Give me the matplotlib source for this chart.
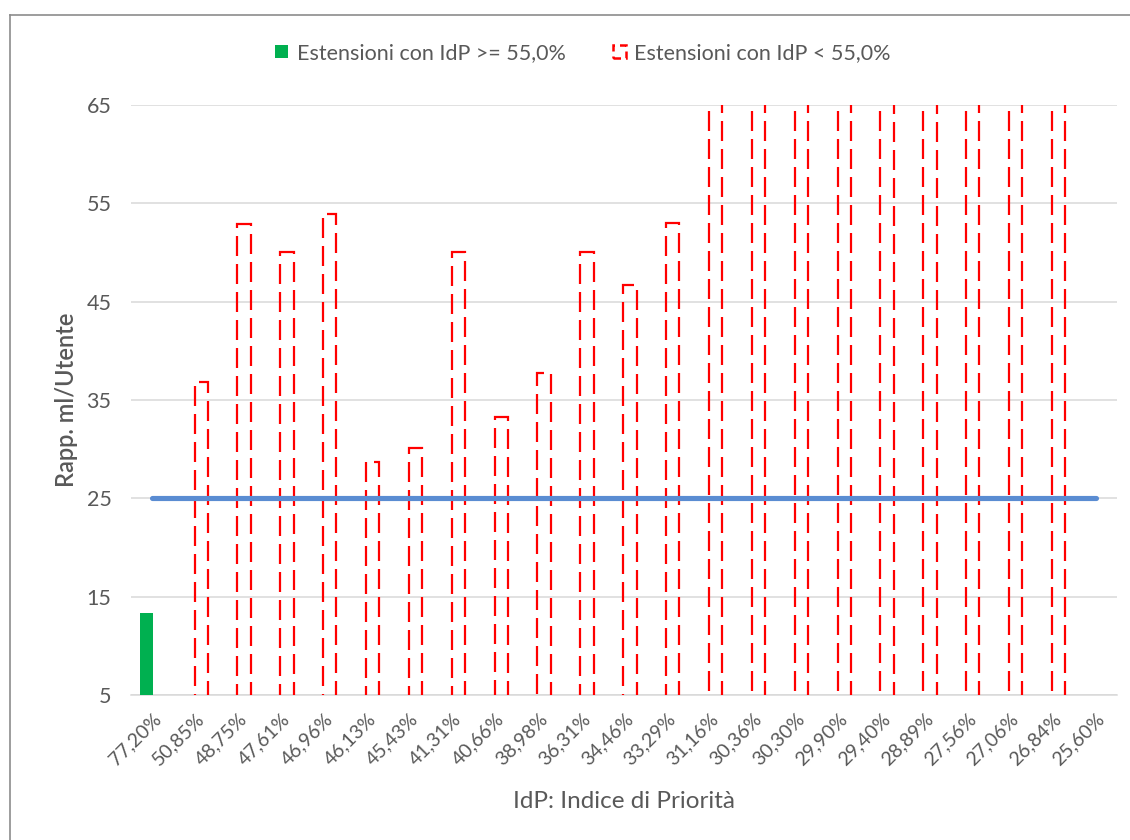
import numpy as np
import matplotlib
matplotlib.use("Agg")
import matplotlib.pyplot as plt
from matplotlib.patches import Patch
from matplotlib.lines import Line2D

plt.rcParams['font.family'] = ['Lato', 'DejaVu Sans']

# IdP per estensione (ordinato decrescente)
idp_labels = ['77,20%', '50,85%', '48,75%', '47,61%', '46,96%', '46,13%',
              '45,43%', '41,31%', '40,66%', '38,98%', '36,31%', '34,46%',
              '33,29%', '31,16%', '30,36%', '30,30%', '29,90%', '29,40%',
              '28,89%', '27,56%', '27,06%', '26,84%', '25,60%']

# rapporto ml/utente, serie IdP >= 55%
rapp_alto = [13.3] + [np.nan] * 22

# rapporto ml/utente, serie IdP < 55% (oltre 65 tagliate dall'asse)
rapp_basso = [np.nan, 36.8, 52.9, 50.1, 53.9, 28.7, 30.1, 50.1, 33.3, 37.7,
              50.1, 46.7, 53.0, 87.5, 104.2, 96.0, 118.3, 92.7, 135.6, 101.4,
              89.9, 123.8, np.nan]

soglia = 25
legenda = ['Estensioni con IdP >= 55,0%', 'Estensioni con IdP < 55,0%']

grigio = '#595959'
verde = '#00B050'
rosso = '#FF0000'
blu = '#5A8CD2'

fig = plt.figure(figsize=(11.3, 8.4), dpi=100)
ax = fig.add_axes([131 / 1130, 1 - 695 / 840, 986 / 1130, 590 / 840])

x = np.arange(len(idp_labels))
w = 0.31
off = 0.137

ax.bar(x - off, rapp_alto, w, color=verde, zorder=3)
bars = ax.bar(x + off, rapp_basso, w, facecolor='none', edgecolor=rosso,
              linewidth=1.6, zorder=3)
for b in bars:
    b.set_linestyle((0, (9, 3.6)))

ax.hlines(soglia, x[0], x[-1], color=blu, linewidth=3.7, zorder=4,
          capstyle='round')

ax.set_xlim(-0.5, len(idp_labels) - 0.5)
ax.set_ylim(5, 65)
ax.set_yticks(np.arange(5, 66, 10))
ax.grid(axis='y', color='#D9D9D9', linewidth=1.1, zorder=0)
ax.set_axisbelow(True)
for s in ['top', 'right', 'left']:
    ax.spines[s].set_visible(False)
ax.spines['bottom'].set_color('#D9D9D9')
ax.spines['bottom'].set_linewidth(1.1)
ax.tick_params(length=0, colors=grigio, labelsize=15.5)
ax.tick_params(axis='y', pad=14)

ax.set_xticks(x)
ax.set_xticklabels(idp_labels, rotation=45, ha='right', va='top',
                   rotation_mode='anchor', fontsize=14, color=grigio)
ax.tick_params(axis='x', pad=11)

ax.set_ylabel('Rapp. ml/Utente', fontsize=17, fontweight='semibold',
              color=grigio, labelpad=6)
ax.set_xlabel('IdP: Indice di Priorità', fontsize=17.5, color=grigio,
              labelpad=16)

handles = [Patch(facecolor=verde, edgecolor='none'),
           Patch(facecolor='none', edgecolor=rosso, linewidth=1.8,
                 linestyle=(0, (3, 2)))]
fig.legend(handles, legenda, loc='center', ncol=2, frameon=False,
           bbox_to_anchor=(583 / 1130, 1 - 53 / 840), fontsize=15.5,
           labelcolor=grigio, handlelength=0.6, handleheight=0.6,
           handletextpad=0.4, columnspacing=2.2)

# cornice del grafico
fig.add_artist(Line2D([9.5 / 1130, 1], [1 - 15 / 840, 1 - 15 / 840],
                      color='#8C8C8C', linewidth=1.2))
fig.add_artist(Line2D([9.5 / 1130, 9.5 / 1130], [0, 1 - 15 / 840],
                      color='#8C8C8C', linewidth=1.2))

fig.savefig('out.png', dpi=100, facecolor='white')
